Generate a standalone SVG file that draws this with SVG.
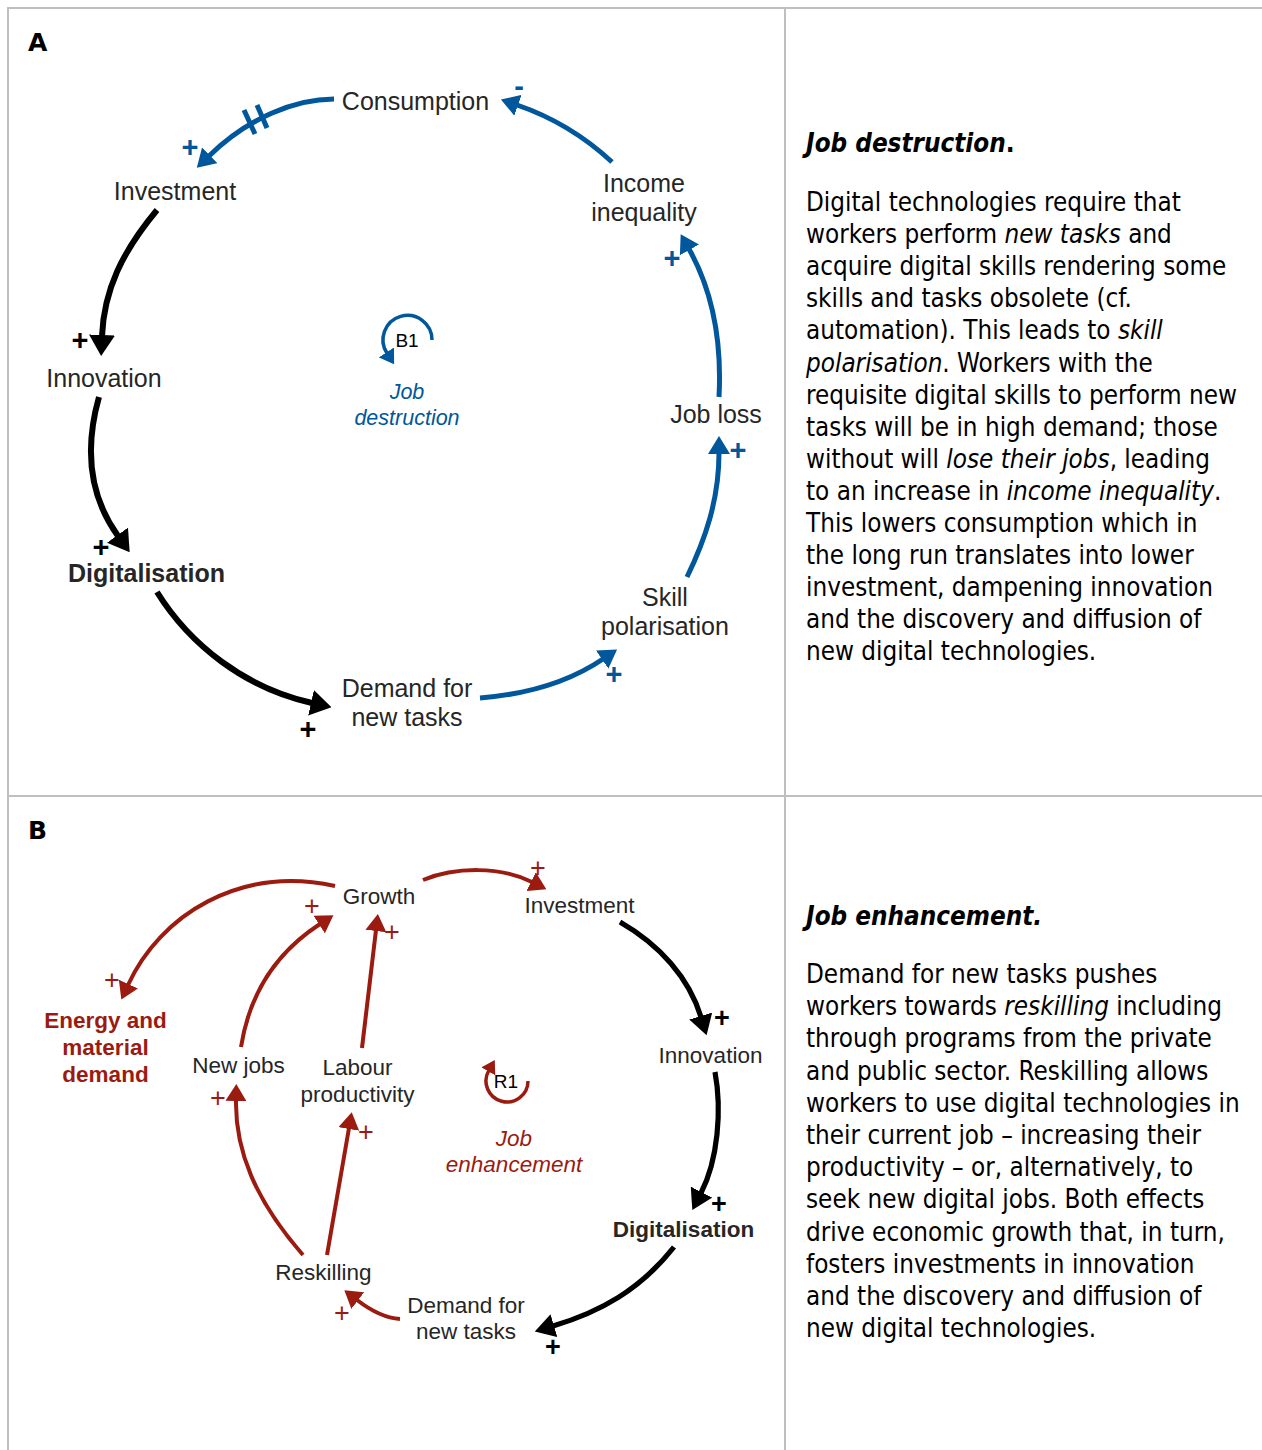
<svg xmlns="http://www.w3.org/2000/svg" width="1262" height="1450" viewBox="0 0 1262 1450">
  <style>
    .grid { stroke: #bfbfbf; stroke-width: 2; fill: none; }
    .panel { font-family: "DejaVu Sans", "Liberation Sans", sans-serif; font-weight: bold; font-size: 25px; fill: #000; }
    .lblA { font-family: "Liberation Sans", Arial, sans-serif; font-size: 25px; fill: #262626; text-anchor: middle; }
    .lblB { font-family: "Liberation Sans", Arial, sans-serif; font-size: 22.5px; fill: #262626; text-anchor: middle; }
    .bold { font-weight: bold; }
    .redlbl { fill: #9b1b10; }
    .loopname { font-family: "Liberation Sans", Arial, sans-serif; font-style: italic; text-anchor: middle; }
    .loopid { font-family: "Liberation Sans", Arial, sans-serif; font-size: 19px; fill: #000; text-anchor: middle; }
    .pol { font-family: "Liberation Sans", Arial, sans-serif; text-anchor: middle; }
    .polA { font-size: 29px; font-weight: bold; }
    .polR { font-size: 27px; }
    .polK { font-size: 27px; font-weight: bold; }
    .blue { stroke: #00579b; stroke-width: 5; fill: none; }
    .black { stroke: #000; stroke-width: 6; fill: none; }
    .blackB { stroke: #000; stroke-width: 5.2; fill: none; }
    .red { stroke: #9b1b10; stroke-width: 4; fill: none; }
    .body { font-family: "DejaVu Sans Condensed", "DejaVu Sans", sans-serif; font-stretch: condensed; font-size: 25.8px; fill: #000; }
    .head { font-family: "DejaVu Sans Condensed", "DejaVu Sans", sans-serif; font-stretch: condensed; font-size: 25.8px; font-weight: bold; font-style: italic; fill: #000; }
    .it { font-style: italic; }
  </style>
  <defs>
    <marker id="ahBlue" viewBox="0 0 18 22" markerWidth="18" markerHeight="22" refX="1" refY="11" orient="auto" markerUnits="userSpaceOnUse">
      <path d="M0,0 L18,11 L0,22 Z" fill="#00579b"/>
    </marker>
    <marker id="ahBlack" viewBox="0 0 21 26" markerWidth="21" markerHeight="26" refX="1" refY="13" orient="auto" markerUnits="userSpaceOnUse">
      <path d="M0,0 L21,13 L0,26 Z" fill="#000"/>
    </marker>
    <marker id="ahBlackB" viewBox="0 0 20 24" markerWidth="20" markerHeight="24" refX="1" refY="12" orient="auto" markerUnits="userSpaceOnUse">
      <path d="M0,0 L20,12 L0,24 Z" fill="#000"/>
    </marker>
    <marker id="ahRed" viewBox="0 0 17 21" markerWidth="17" markerHeight="21" refX="1" refY="10.5" orient="auto" markerUnits="userSpaceOnUse">
      <path d="M0,0 L17,10.5 L0,21 Z" fill="#9b1b10"/>
    </marker>
    <marker id="ahBlueS" viewBox="0 0 14 18" markerWidth="14" markerHeight="18" refX="1" refY="9" orient="auto" markerUnits="userSpaceOnUse">
      <path d="M0,0 L14,9 L0,18 Z" fill="#00579b"/>
    </marker>
    <marker id="ahRedS" viewBox="0 0 13 16" markerWidth="13" markerHeight="16" refX="1" refY="8" orient="auto" markerUnits="userSpaceOnUse">
      <path d="M0,0 L13,8 L0,16 Z" fill="#9b1b10"/>
    </marker>
  </defs>

  <rect width="1262" height="1450" fill="#fff"/>

  <!-- table grid -->
  <g id="grid" class="grid">
    <line x1="8" y1="8" x2="1262" y2="8"/>
    <line x1="8" y1="7" x2="8" y2="1450"/>
    <line x1="785" y1="8" x2="785" y2="1450"/>
    <line x1="8" y1="796" x2="1262" y2="796"/>
  </g>

  <text class="panel" x="28" y="51">A</text>
  <text class="panel" x="28" y="839">B</text>

  <!-- connectors -->
  <g id="connectors">
    <!-- panel A: job destruction loop -->
    <path class="blue" d="M334,99 C295,99 248,118 209,156" marker-end="url(#ahBlue)"/>
    <line class="blue" x1="244" y1="110" x2="255" y2="134" stroke-width="4.5"/>
    <line class="blue" x1="257" y1="105" x2="267" y2="128" stroke-width="4.5"/>
    <path class="black" d="M157,210 C122,252 104,290 102,336" marker-end="url(#ahBlack)"/>
    <path class="black" d="M99,397 C84,450 90,497 118,536" marker-end="url(#ahBlack)"/>
    <path class="black" d="M157,592 C190,645 245,688 312,703" marker-end="url(#ahBlack)"/>
    <path class="blue" d="M480,698 C530,694 572,680 603,659" marker-end="url(#ahBlue)"/>
    <path class="blue" d="M687,577 C705,540 719,500 719,453" marker-end="url(#ahBlue)"/>
    <path class="blue" d="M719,397 C722,340 712,290 689,249" marker-end="url(#ahBlue)"/>
    <path class="blue" d="M612,162 C585,137 555,118 517,105" marker-end="url(#ahBlue)"/>

    <!-- panel B: job enhancement loop -->
    <path class="red" d="M335,886 C240,865 160,915 128,985" marker-end="url(#ahRed)"/>
    <path class="red" d="M241,1047 C250,990 280,950 320,924" marker-end="url(#ahRed)"/>
    <path class="red" d="M362,1048 L376,930" marker-end="url(#ahRed)"/>
    <path class="red" d="M423,880 C455,867 500,866 532,882" marker-end="url(#ahRed)"/>
    <path class="blackB" d="M620,922 C660,945 689,978 701,1017" marker-end="url(#ahBlackB)"/>
    <path class="blackB" d="M715,1072 C722,1110 718,1160 701,1193" marker-end="url(#ahBlackB)"/>
    <path class="blackB" d="M674,1247 C640,1290 600,1312 553,1326" marker-end="url(#ahBlackB)"/>
    <path class="red" d="M400,1319 C385,1318 370,1310 357,1300" marker-end="url(#ahRed)"/>
    <path class="red" d="M303,1255 C255,1200 235,1150 236,1100" marker-end="url(#ahRed)"/>
    <path class="red" d="M327,1255 L349,1128" marker-end="url(#ahRed)"/>
  </g>

  <!-- polarity signs -->
  <g id="polarities" class="pol">
    <text class="polA" x="190" y="157" fill="#00579b">+</text>
    <text class="polA" x="672" y="268" fill="#00579b">+</text>
    <text class="polA" x="738" y="460" fill="#00579b">+</text>
    <text class="polA" x="614" y="684" fill="#00579b">+</text>
    <text class="polA" x="519" y="96" fill="#00579b">-</text>
    <text class="polA" x="80" y="350" fill="#000">+</text>
    <text class="polA" x="101" y="557" fill="#000">+</text>
    <text class="polA" x="308" y="739" fill="#000">+</text>

    <text class="polR" x="112" y="988.5" fill="#9b1b10">+</text>
    <text class="polR" x="312" y="914.5" fill="#9b1b10">+</text>
    <text class="polR" x="392" y="940.5" fill="#9b1b10">+</text>
    <text class="polR" x="538" y="876.5" fill="#9b1b10">+</text>
    <text class="polR" x="218" y="1106.5" fill="#9b1b10">+</text>
    <text class="polR" x="366" y="1140.5" fill="#9b1b10">+</text>
    <text class="polR" x="342" y="1321.5" fill="#9b1b10">+</text>
    <text class="polK" x="722" y="1026.5" fill="#000">+</text>
    <text class="polK" x="719" y="1212.5" fill="#000">+</text>
    <text class="polK" x="553" y="1355.5" fill="#000">+</text>
  </g>

  <!-- panel A nodes -->
  <g id="a-consumption"><text class="lblA" x="415.5" y="110">Consumption</text></g>
  <g id="a-investment"><text class="lblA" x="175" y="200">Investment</text></g>
  <g id="a-innovation"><text class="lblA" x="104" y="387">Innovation</text></g>
  <g id="a-digitalisation"><text class="lblA bold" x="146.5" y="582">Digitalisation</text></g>
  <g id="a-demand"><text class="lblA" x="407" y="697">Demand for</text><text class="lblA" x="407" y="726">new tasks</text></g>
  <g id="a-skill"><text class="lblA" x="665" y="606">Skill</text><text class="lblA" x="665" y="635">polarisation</text></g>
  <g id="a-jobloss"><text class="lblA" x="716" y="423">Job loss</text></g>
  <g id="a-income"><text class="lblA" x="644" y="192">Income</text><text class="lblA" x="644" y="221">inequality</text></g>
  <g id="a-loop">
    <path d="M432,340 A24.5,24.5 0 1 0 387,353.3" stroke="#00579b" stroke-width="3.5" fill="none" marker-end="url(#ahBlueS)"/>
    <text class="loopid" x="407" y="347">B1</text>
    <text class="loopname" x="407" y="399" font-size="21.5" fill="#00579b">Job</text>
    <text class="loopname" x="407" y="425" font-size="21.5" fill="#00579b">destruction</text>
  </g>

  <!-- panel B nodes -->
  <g id="b-growth"><text class="lblB" x="379" y="904">Growth</text></g>
  <g id="b-investment"><text class="lblB" x="579.5" y="913">Investment</text></g>
  <g id="b-innovation"><text class="lblB" x="710.5" y="1063">Innovation</text></g>
  <g id="b-digitalisation"><text class="lblB bold" x="683.5" y="1237">Digitalisation</text></g>
  <g id="b-demand"><text class="lblB" x="466" y="1313">Demand for</text><text class="lblB" x="466" y="1339">new tasks</text></g>
  <g id="b-reskilling"><text class="lblB" x="323.5" y="1280">Reskilling</text></g>
  <g id="b-newjobs"><text class="lblB" x="238.5" y="1073">New jobs</text></g>
  <g id="b-labour"><text class="lblB" x="357.5" y="1075">Labour</text><text class="lblB" x="357.5" y="1102">productivity</text></g>
  <g id="b-energy">
    <text class="lblB bold redlbl" x="105.5" y="1028">Energy and</text>
    <text class="lblB bold redlbl" x="105.5" y="1055">material</text>
    <text class="lblB bold redlbl" x="105.5" y="1082">demand</text>
  </g>
  <g id="b-loop">
    <path d="M528,1081 A21,21 0 1 1 488.8,1070.5" stroke="#9b1b10" stroke-width="3.5" fill="none" marker-end="url(#ahRedS)"/>
    <text class="loopid" x="506" y="1088" font-size="18">R1</text>
    <text class="loopname" x="514" y="1146" font-size="22.5" fill="#9b1b10">Job</text>
    <text class="loopname" x="514" y="1172" font-size="22.5" fill="#9b1b10">enhancement</text>
  </g>

  <!-- description of panel A -->
  <g id="text-a">
    <text class="head" x="806" y="152">Job destruction<tspan font-style="normal">.</tspan></text>
    <text class="body" x="806" y="211">Digital technologies require that</text>
    <text class="body" x="806" y="243.1">workers perform <tspan class="it">new tasks</tspan> and</text>
    <text class="body" x="806" y="275.2">acquire digital skills rendering some</text>
    <text class="body" x="806" y="307.3">skills and tasks obsolete (cf.</text>
    <text class="body" x="806" y="339.4">automation). This leads to <tspan class="it">skill</tspan></text>
    <text class="body" x="806" y="371.5"><tspan class="it">polarisation</tspan>. Workers with the</text>
    <text class="body" x="806" y="403.6">requisite digital skills to perform new</text>
    <text class="body" x="806" y="435.7">tasks will be in high demand; those</text>
    <text class="body" x="806" y="467.8">without will <tspan class="it">lose their jobs</tspan>, leading</text>
    <text class="body" x="806" y="499.9">to an increase in <tspan class="it">income inequality</tspan>.</text>
    <text class="body" x="806" y="532">This lowers consumption which in</text>
    <text class="body" x="806" y="564.1">the long run translates into lower</text>
    <text class="body" x="806" y="596.2">investment, dampening innovation</text>
    <text class="body" x="806" y="628.3">and the discovery and diffusion of</text>
    <text class="body" x="806" y="660.4">new digital technologies.</text>
  </g>

  <!-- description of panel B -->
  <g id="text-b">
    <text class="head" x="806" y="925">Job enhancement.</text>
    <text class="body" x="806" y="983">Demand for new tasks pushes</text>
    <text class="body" x="806" y="1015.2">workers towards <tspan class="it">reskilling</tspan> including</text>
    <text class="body" x="806" y="1047.4">through programs from the private</text>
    <text class="body" x="806" y="1079.6">and public sector. Reskilling allows</text>
    <text class="body" x="806" y="1111.8">workers to use digital technologies in</text>
    <text class="body" x="806" y="1144">their current job – increasing their</text>
    <text class="body" x="806" y="1176.2">productivity – or, alternatively, to</text>
    <text class="body" x="806" y="1208.4">seek new digital jobs. Both effects</text>
    <text class="body" x="806" y="1240.6">drive economic growth that, in turn,</text>
    <text class="body" x="806" y="1272.8">fosters investments in innovation</text>
    <text class="body" x="806" y="1305">and the discovery and diffusion of</text>
    <text class="body" x="806" y="1337.2">new digital technologies.</text>
  </g>
</svg>
